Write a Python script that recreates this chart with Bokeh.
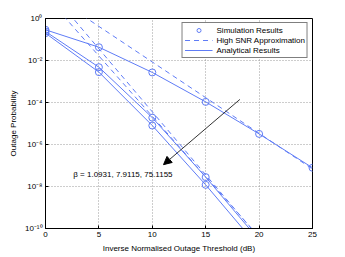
from bokeh.plotting import figure
from bokeh.models import (FixedTicker, Legend, LegendItem,
                          Arrow, NormalHead, CustomJSTickFormatter, Range1d)
from bokeh.core.properties import value
from bokeh.embed import file_html
from bokeh.resources import INLINE

# ---- data ----
snr = [0, 5, 10, 15, 20, 25]
snr_low = [0, 5, 10, 15]
snr_ana = [0, 5, 10, 15, 20]

sim_1 = [0.29, 0.043, 2.7e-3, 1.07e-4, 3.2e-6, 7.8e-8]
sim_2 = [0.24, 4.8e-3, 1.9e-5, 2.8e-8]
sim_3 = [0.20, 2.8e-3, 8.0e-6, 1.2e-8]

ana_1 = [0.29, 0.043, 2.7e-3, 1.07e-4, 3.2e-6, 7.8e-8]
ana_2 = [0.24, 4.8e-3, 1.9e-5, 2.8e-8, 2.8e-11]
ana_3 = [0.20, 2.8e-3, 8.0e-6, 1.2e-8, 1.2e-11]

hsnr_1 = [21.2, 0.42, 8.5e-3, 1.7e-4, 3.4e-6, 6.8e-8]
hsnr_2 = [36.0, 0.036, 3.6e-5, 3.6e-8, 3.6e-11, 3.6e-14]
hsnr_3 = [12.4, 0.0165, 2.2e-5, 2.9e-8, 4.0e-11, 5.0e-14]

y_ticks = [1e-10, 1e-8, 1e-6, 1e-4, 1e-2, 1e0]
x_ticks = [0, 5, 10, 15, 20, 25]

beta_label = "β = 1.0931, 7.9115, 75.1155"
beta_pos = (2.6, 3.7e-8)
arrow_from = (18.2, 1.4e-4)
arrow_to = (11.05, 1.1e-7)

BLUE = "#5f7cf6"
FONT = "Liberation Sans"
FS = "8px"

p = figure(width=335, height=255, y_axis_type="log", output_backend="svg",
           toolbar_location=None, x_range=Range1d(0, 25), y_range=Range1d(1e-10, 1),
           min_border_left=45, min_border_right=23, min_border_top=18, min_border_bottom=27)
p.outline_line_color = "black"
p.background_fill_color = "white"

sup = """
const s = {'-':'\u207b','0':'\u2070','1':'\u00b9','2':'\u00b2','3':'\u00b3','4':'\u2074','5':'\u2075','6':'\u2076','7':'\u2077','8':'\u2078','9':'\u2079'};
const e = Math.round(Math.log10(tick));
return '10' + String(e).split('').map(c => s[c]).join('');
"""

for ax in [p.xaxis[0], p.yaxis[0]]:
    ax.major_label_text_font = FONT
    ax.major_label_text_font_size = FS
    ax.major_label_text_color = "black"
    ax.axis_label_text_font = FONT
    ax.axis_label_text_font_size = FS
    ax.axis_label_text_font_style = "normal"
    ax.axis_label_text_color = "black"
    ax.major_tick_in = 3
    ax.major_tick_out = 0
    ax.minor_tick_in = 0
    ax.minor_tick_out = 0
    ax.axis_line_color = "black"
    ax.major_tick_line_color = "black"
    ax.major_label_standoff = 3
    ax.axis_label_standoff = 4

p.xaxis.ticker = FixedTicker(ticks=x_ticks)
p.yaxis.ticker = FixedTicker(ticks=y_ticks, minor_ticks=[])
p.yaxis.formatter = CustomJSTickFormatter(code=sup)
p.xaxis.axis_label = "Inverse Normalised Outage Threshold (dB)"
p.yaxis.axis_label = "Outage Probability"

p.xgrid.ticker = FixedTicker(ticks=x_ticks)
p.ygrid.ticker = FixedTicker(ticks=y_ticks, minor_ticks=[])
for g in [p.xgrid[0], p.ygrid[0]]:
    g.grid_line_color = "#9a9a9a"
    g.grid_line_dash = "1 2"
    g.grid_line_width = 1

# analytical (solid)
ra = p.line(snr, ana_1, line_color=BLUE, line_width=1)
p.line(snr_ana, ana_2, line_color=BLUE, line_width=1)
p.line(snr_ana, ana_3, line_color=BLUE, line_width=1)

# high SNR approximations (dashed)
rd = p.line(snr, hsnr_1, line_color=BLUE, line_width=1, line_dash="5 4")
p.line(snr, hsnr_2, line_color=BLUE, line_width=1, line_dash="5 4")
p.line(snr, hsnr_3, line_color=BLUE, line_width=1, line_dash="5 4")

# simulation (circles)
rs = p.scatter(snr, sim_1, marker="circle", size=7, fill_color=None, line_color=BLUE, line_width=1)
p.scatter(snr_low, sim_2, marker="circle", size=7, fill_color=None, line_color=BLUE, line_width=1)
p.scatter(snr_low, sim_3, marker="circle", size=7, fill_color=None, line_color=BLUE, line_width=1)

# arrow & annotation
p.add_layout(Arrow(x_start=arrow_from[0], y_start=arrow_from[1], x_end=arrow_to[0], y_end=arrow_to[1],
                   line_color="#333333", line_width=1,
                   end=NormalHead(size=8, fill_color="black", line_color="black")))
p.text(x=[beta_pos[0]], y=[beta_pos[1]], text=[beta_label], text_font=value(FONT),
       text_font_size=FS, text_color="black", text_baseline="middle", text_align="left")

legend = Legend(items=[LegendItem(label="Simulation Results", renderers=[rs]),
                       LegendItem(label="High SNR Approximation", renderers=[rd]),
                       LegendItem(label="Analytical Results", renderers=[ra])],
                location="top_right", margin=4, padding=2, spacing=0,
                glyph_height=10, label_height=10, glyph_width=28, label_standoff=4,
                label_text_font=FONT, label_text_font_size=FS, label_text_color="black",
                border_line_color="black", border_line_width=1,
                background_fill_color="white", background_fill_alpha=1)
p.add_layout(legend)

open("out.html", "w").write(file_html(p, INLINE))
